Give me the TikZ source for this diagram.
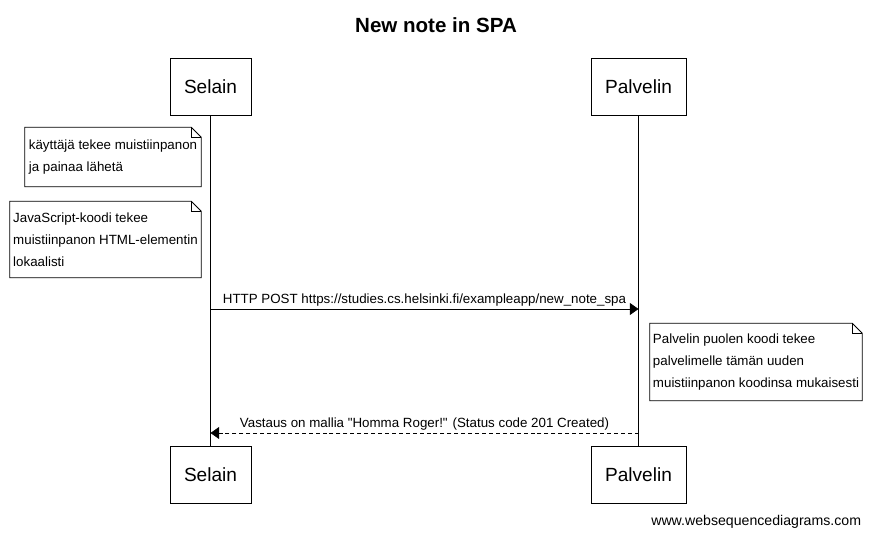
\documentclass[tikz,border=0pt]{standalone}
\usepackage{fontspec}
\setmainfont{Liberation Sans}
\usetikzlibrary{arrows.meta,positioning,calc}
\tikzset{
    actor/.style={draw, rectangle, minimum width=#1, minimum height=42.75pt, inner sep=0pt, font=\fontsize{14.3}{16}\selectfont},
    actor/.default=60.75pt,
    msg/.style={-{Triangle[length=6.5pt, width=9pt]}, line width=0.6pt},
    reply/.style={msg, dashed, dash pattern=on 3pt off 2.2pt},
    lifeline/.style={line width=0.6pt}
}
% folded corner of a note
\newcommand{\notefold}[1]{
    \draw[line width=0.6pt] (#1.south west) -- (#1.north west) -- ([xshift=-7.5pt]#1.north east)
        -- ([yshift=-7.5pt]#1.north east) -- (#1.south east) -- cycle;
    \draw[line width=0.6pt] ([xshift=-7.5pt]#1.north east) |- ([yshift=-7.5pt]#1.north east);
}
\begin{document}
\begin{tikzpicture}[
        x=0.75pt, y=-0.75pt,
        note/.style={rectangle, minimum width=#1, inner sep=0pt, align=left, font=\fontsize{10}{16.5}\selectfont},
        lbl/.style={font=\fontsize{10}{12}\selectfont, inner sep=2pt},
        title/.style={font=\fontsize{15.4}{18}\selectfont\bfseries}
    ]
    \useasboundingbox (0,0) rectangle (871,538);

    % Title
    \node[title] (ttl) at (436, 25) {New note in SPA};

    % Participants
    \node[actor] (selT) at (210.5, 86.5) {Selain};
    \node[actor=71.25pt] (palT) at (638.5, 86.5) {Palvelin};
    \node[actor] (selB) at (210.5, 474.5) {Selain};
    \node[actor=71.25pt] (palB) at (638.5, 474.5) {Palvelin};

    \draw[lifeline] (selT) -- (selB);
    \draw[lifeline] (palT) -- (palB);

    % Notes
    \node[note=132pt, minimum height=44.25pt] (n1) at (113, 157) {käyttäjä tekee muistiinpanon\\ja painaa lähetä};
    \notefold{n1}
    \node[note=143.25pt, minimum height=57pt] (n2) at (105.5, 239.5) {JavaScript-koodi tekee\\muistiinpanon HTML-elementin\\lokaalisti};
    \notefold{n2}

    % Request
    \coordinate (m1s) at (selT |- 0,309);
    \coordinate (m1e) at (palT |- 0,309);
    \draw[msg] (m1s) -- (m1e) node[lbl, midway, above] (l1) {HTTP POST https://studies.cs.helsinki.fi/exampleapp/new\_note\_spa};

    \node[note=159pt, minimum height=57.75pt] (n3) at (756, 362) {Palvelin puolen koodi tekee\\palvelimelle tämän uuden\\muistiinpanon koodinsa mukaisesti};
    \notefold{n3}

    % Response
    \coordinate (m2s) at (palT |- 0,433);
    \coordinate (m2e) at (selT |- 0,433);
    \draw[reply] (m2s) -- (m2e) node[lbl, midway, above] (l2) {Vastaus on mallia \textquotedbl Homma Roger!\textquotedbl{} (Status code 201 Created)};

    % Footer
    \node[lbl, font=\fontsize{10.6}{12}\selectfont, anchor=east] (ftr) at (864, 522) {www.websequencediagrams.com};
\end{tikzpicture}
\end{document}
